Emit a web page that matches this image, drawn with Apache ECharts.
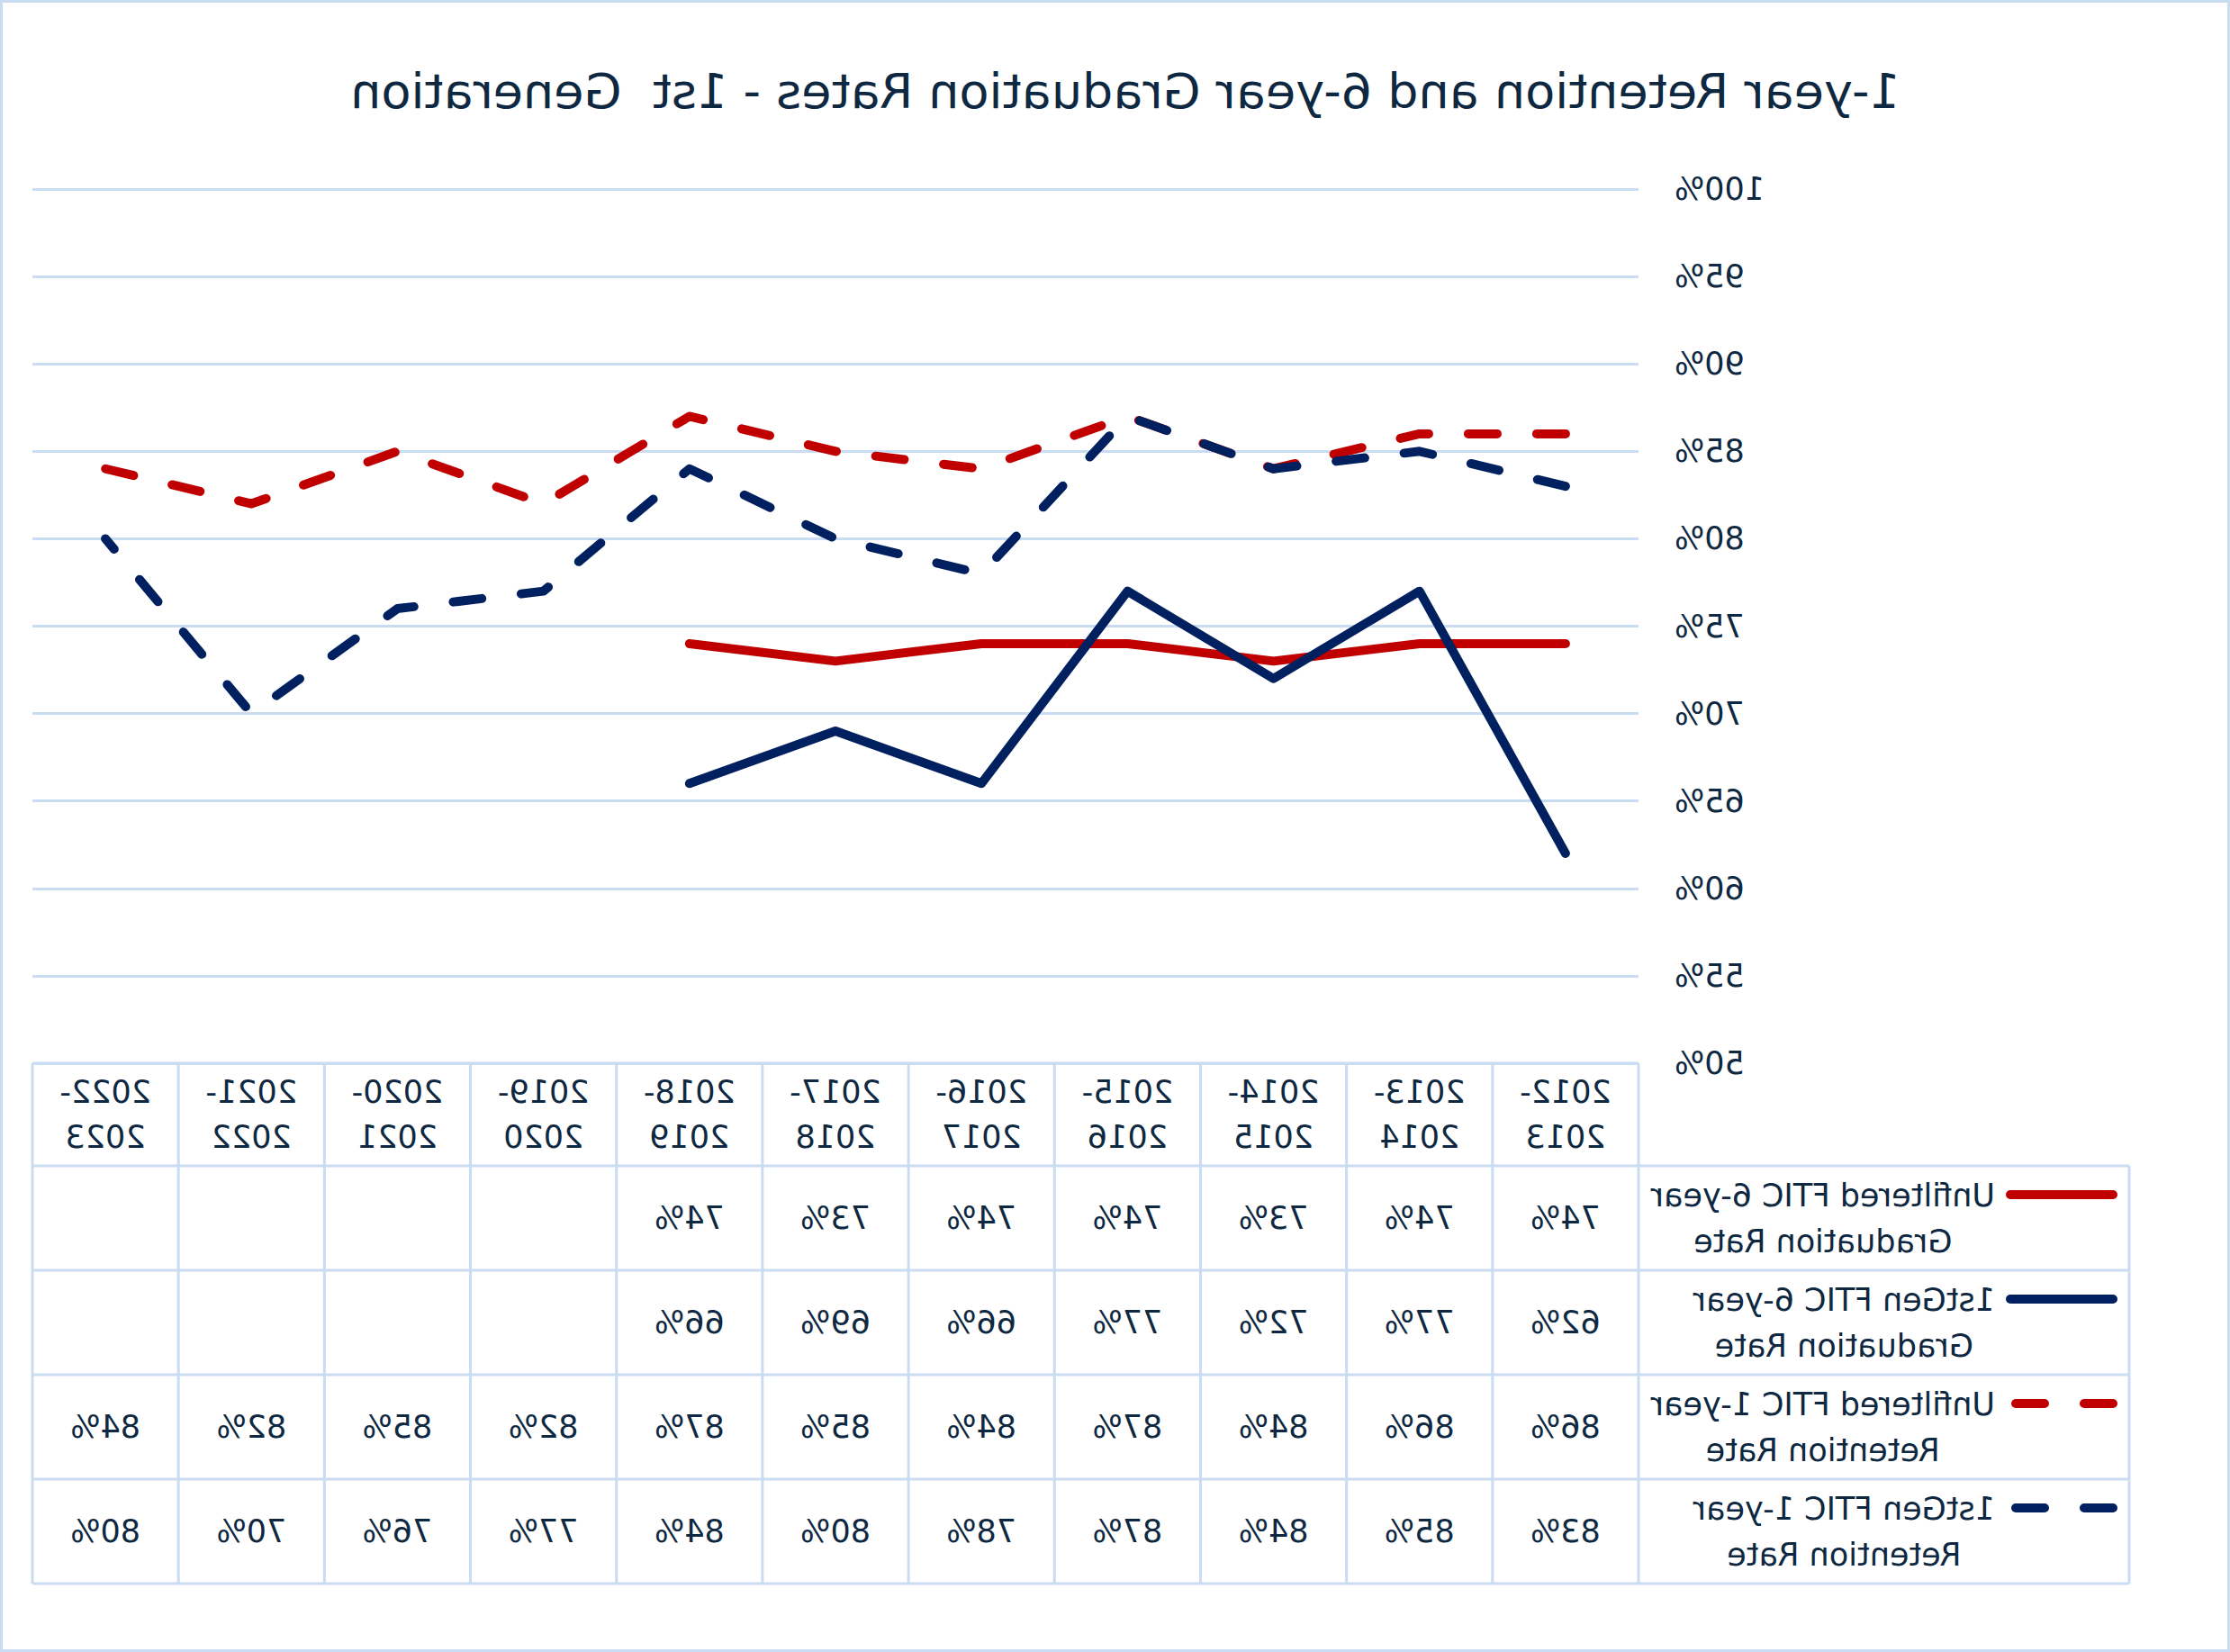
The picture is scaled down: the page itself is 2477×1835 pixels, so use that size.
<!DOCTYPE html>
<html><head><meta charset="utf-8">
<script src="https://cdn.jsdelivr.net/npm/echarts@6/dist/echarts.min.js"></script>
<style>
html,body{margin:0;padding:0;background:#fff;overflow:hidden}
#wrap{width:2477px;height:1835px;transform:scaleX(-1);transform-origin:50% 50%}
#chart{width:2477px;height:1835px}
</style></head>
<body><div id="wrap"><div id="chart"></div></div>
<script>
// ---- data ----
const titleText = '1-year Retention and 6-year Graduation Rates - 1st  Generation';
const categories = ['2012-2013','2013-2014','2014-2015','2015-2016','2016-2017','2017-2018','2018-2019','2019-2020','2020-2021','2021-2022','2022-2023'];
const yTicks = [50,55,60,65,70,75,80,85,90,95,100];
const unfiltered6 = [74,74,73,74,74,73,74,null,null,null,null];
const firstGen6   = [62,77,72,77,66,69,66,null,null,null,null];
const unfiltered1 = [86,86,84,87,84,85,87,82,85,82,84];
const firstGen1   = [83,85,84,87,78,80,84,77,76,70,80];
const seriesNames = ['Unfiltered FTIC 6-year Graduation Rate','1stGen FTIC 6-year Graduation Rate','Unfiltered FTIC 1-year Retention Rate','1stGen FTIC 1-year Retention Rate'];
const legendLines = [['Unfiltered FTIC 6-year','Graduation Rate'],['1stGen FTIC 6-year','Graduation Rate'],['Unfiltered FTIC 1-year','Retention Rate'],['1stGen FTIC 1-year','Retention Rate']];

// ---- style ----
const RED = '#C00000', NAVY = '#002060', TXT = '#0E2841', GRIDC = '#C9DCF2';
const FONT = '"DejaVu Sans", sans-serif';
const seriesStyle = [
  {color: RED, dash: 'solid'},
  {color: NAVY, dash: 'solid'},
  {color: RED, dash: [32, 44]},
  {color: NAVY, dash: [32, 44]}
];
const seriesData = [unfiltered6, firstGen6, unfiltered1, firstGen1];

const chart = echarts.init(document.getElementById('chart'), null, {renderer: 'svg'});
const gridTop = 210, gridBottomY = 1181, gridLeft = 657, gridRight = 36;

chart.setOption({
  animation: false,
  backgroundColor: '#fff',
  grid: {left: gridLeft, right: gridRight, top: gridTop, height: gridBottomY - gridTop, containLabel: false},
  xAxis: {
    type: 'category', data: categories, boundaryGap: true,
    axisLine: {show: false}, axisTick: {show: false}, axisLabel: {show: false}, splitLine: {show: false}
  },
  yAxis: {
    type: 'value', min: yTicks[0], max: yTicks[yTicks.length - 1], interval: 5,
    axisLine: {show: false}, axisTick: {show: false},
    axisLabel: {formatter: '{value}%', color: TXT, fontFamily: FONT, fontSize: 35, margin: 40},
    splitLine: {show: true, lineStyle: {color: GRIDC, width: 3}}
  },
  series: seriesData.map((d, i) => ({
    name: seriesNames[i], type: 'line', data: d, symbol: 'none', connectNulls: false,
    lineStyle: {color: seriesStyle[i].color, width: 10, type: seriesStyle[i].dash, cap: 'round', join: 'round'},
    itemStyle: {color: seriesStyle[i].color}, z: 2 + i
  }))
});

// ---- data table (built from the category axis positions) ----
const centers = categories.map(c => chart.convertToPixel({xAxisIndex: 0}, c));
const half = (centers[1] - centers[0]) / 2;
const bounds = centers.map(c => c - half).concat([centers[centers.length - 1] + half]);
const tableTop = 1181, headerBottom = 1295, rowH = 116;
const rowTops = [0,1,2,3].map(k => headerBottom + k * rowH);
const tableBottom = headerBottom + 4 * rowH;
const legendLeft = 112;
const tableFont = '35px ' + FONT;
const els = [];
const LW = 3;
function hline(y, x1, x2) { els.push({type: 'line', shape: {x1, y1: y, x2, y2: y}, style: {stroke: GRIDC, lineWidth: LW}, z: 10}); }
function vline(x, y1, y2) { els.push({type: 'line', shape: {x1: x, y1, x2: x, y2}, style: {stroke: GRIDC, lineWidth: LW}, z: 10}); }

hline(tableTop, bounds[0], bounds[bounds.length - 1]);
[headerBottom].concat(rowTops.map(t => t + rowH)).forEach(y => hline(y, legendLeft, bounds[bounds.length - 1]));
bounds.forEach(x => vline(x, tableTop, tableBottom));
vline(legendLeft, headerBottom, tableBottom);

// header labels
categories.forEach((c, i) => {
  const parts = c.split('-');
  els.push({type: 'text', z: 11, style: {text: parts[0] + '-\n' + parts[1], x: centers[i], y: (tableTop + headerBottom) / 2,
    align: 'center', verticalAlign: 'middle', font: tableFont, fill: TXT, lineHeight: 50}});
});
// values
seriesData.forEach((d, r) => {
  d.forEach((v, i) => {
    if (v == null) return;
    els.push({type: 'text', z: 11, style: {text: v + '%', x: centers[i], y: rowTops[r] + rowH / 2,
      align: 'center', verticalAlign: 'middle', font: tableFont, fill: TXT}});
  });
});
// legend keys + names
const mctx = document.createElement('canvas').getContext('2d');
mctx.font = tableFont;
legendLines.forEach((lines, r) => {
  const yKey = rowTops[r] + rowH / 2 - 26;
  els.push({type: 'line', z: 11, shape: {x1: 130, y1: yKey, x2: 244, y2: yKey},
    style: {stroke: seriesStyle[r].color, lineWidth: 10, lineCap: 'round',
      lineDash: seriesStyle[r].dash === 'solid' ? null : seriesStyle[r].dash}});
  const w = Math.max.apply(null, lines.map(l => mctx.measureText(l).width));
  els.push({type: 'text', z: 11, style: {text: lines.join('\n'), x: 261 + w / 2, y: rowTops[r] + rowH / 2,
    align: 'center', verticalAlign: 'middle', font: tableFont, fill: TXT, lineHeight: 51}});
});
// title
els.push({type: 'text', z: 11, style: {text: titleText, x: 1227, y: 101, align: 'center', verticalAlign: 'middle',
  font: '54px ' + FONT, fill: TXT}});
// outer border
els.push({type: 'rect', z: 12, shape: {x: 1.5, y: 1.5, width: 2474, height: 1832}, style: {fill: 'none', stroke: GRIDC, lineWidth: 3}});

chart.setOption({graphic: els});
</script>
</body></html>
